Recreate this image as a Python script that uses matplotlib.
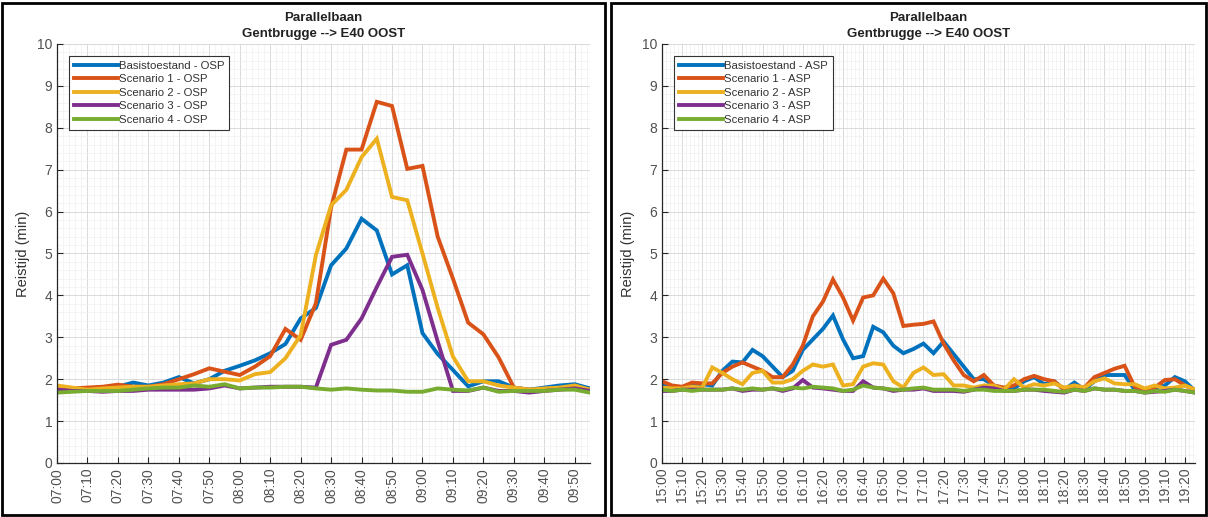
import matplotlib
matplotlib.use("Agg")
import matplotlib.pyplot as plt
from matplotlib.patches import Rectangle
from matplotlib.ticker import MultipleLocator
import numpy as np

plt.rcParams["font.family"] = ["Liberation Sans", "DejaVu Sans"]

# Reistijden (min), elke 5 minuten
# Ochtendspits (OSP) 07:00 - 09:55
osp_basis = [1.75, 1.75, 1.78, 1.80, 1.82, 1.92, 1.85, 1.92, 2.05, 1.90, 2.00, 2.20,
             2.32, 2.45, 2.62, 2.84, 3.45, 3.70, 4.72, 5.12, 5.83, 5.55, 4.50, 4.72,
             3.10, 2.60, 2.22, 1.83, 1.95, 1.95, 1.80, 1.75, 1.80, 1.85, 1.88, 1.78]
osp_sc1 = [1.75, 1.78, 1.80, 1.82, 1.87, 1.82, 1.82, 1.88, 2.00, 2.12, 2.26, 2.18,
           2.10, 2.30, 2.55, 3.20, 2.94, 3.81, 6.10, 7.48, 7.48, 8.62, 8.52, 7.02,
           7.09, 5.40, 4.40, 3.35, 3.07, 2.52, 1.80, 1.75, 1.75, 1.78, 1.80, 1.75]
osp_sc2 = [1.85, 1.80, 1.75, 1.78, 1.80, 1.82, 1.82, 1.85, 1.88, 1.90, 2.00, 2.00,
           1.97, 2.12, 2.17, 2.50, 3.05, 4.96, 6.15, 6.52, 7.30, 7.74, 6.35, 6.27,
           5.00, 3.70, 2.54, 1.95, 1.95, 1.85, 1.80, 1.75, 1.78, 1.80, 1.85, 1.75]
osp_sc3 = [1.75, 1.72, 1.72, 1.70, 1.72, 1.72, 1.75, 1.75, 1.75, 1.75, 1.78, 1.85,
           1.78, 1.80, 1.82, 1.82, 1.82, 1.80, 2.82, 2.94, 3.45, 4.20, 4.92, 4.97,
           4.13, 2.90, 1.72, 1.72, 1.80, 1.72, 1.72, 1.68, 1.72, 1.75, 1.78, 1.72]
osp_sc4 = [1.68, 1.70, 1.72, 1.72, 1.72, 1.75, 1.78, 1.80, 1.80, 1.85, 1.82, 1.88,
           1.78, 1.80, 1.80, 1.82, 1.82, 1.78, 1.75, 1.78, 1.75, 1.73, 1.73, 1.70,
           1.70, 1.78, 1.75, 1.73, 1.80, 1.70, 1.72, 1.72, 1.72, 1.75, 1.75, 1.68]

# Avondspits (ASP) 15:00 - 19:25
asp_basis = [1.85, 1.80, 1.78, 1.85, 1.88, 1.85, 2.20, 2.42, 2.40, 2.70, 2.55, 2.30,
             2.05, 2.20, 2.70, 2.95, 3.20, 3.52, 2.95, 2.50, 2.55, 3.25, 3.12, 2.80,
             2.62, 2.72, 2.85, 2.62, 2.90, 2.60, 2.30, 2.00, 2.00, 1.85, 1.78, 1.78,
             1.95, 2.05, 1.88, 1.95, 1.75, 1.92, 1.75, 1.95, 2.10, 2.10, 2.10, 1.75,
             1.72, 1.78, 1.85, 2.05, 1.95, 1.72]
asp_sc1 = [1.95, 1.85, 1.82, 1.92, 1.90, 1.90, 2.15, 2.30, 2.40, 2.30, 2.20, 2.05,
           2.05, 2.35, 2.80, 3.50, 3.85, 4.38, 3.95, 3.40, 3.95, 4.00, 4.40, 4.05,
           3.27, 3.30, 3.32, 3.38, 2.85, 2.45, 2.10, 1.95, 2.10, 1.85, 1.80, 1.85,
           2.00, 2.08, 2.00, 1.95, 1.75, 1.85, 1.80, 2.05, 2.15, 2.25, 2.32, 1.82,
           1.72, 1.80, 1.98, 2.00, 1.85, 1.75]
asp_sc2 = [1.80, 1.78, 1.78, 1.82, 1.80, 2.28, 2.15, 2.00, 1.88, 2.15, 2.20, 1.92,
           1.92, 2.00, 2.20, 2.35, 2.30, 2.35, 1.85, 1.88, 2.30, 2.38, 2.35, 1.95,
           1.80, 2.15, 2.28, 2.10, 2.12, 1.85, 1.85, 1.80, 1.85, 1.85, 1.75, 2.00,
           1.80, 1.88, 1.85, 1.90, 1.80, 1.85, 1.80, 1.95, 2.02, 1.90, 1.88, 1.88,
           1.78, 1.85, 1.78, 1.80, 1.85, 1.75]
asp_sc3 = [1.72, 1.72, 1.75, 1.75, 1.75, 1.75, 1.75, 1.78, 1.72, 1.75, 1.75, 1.78,
           1.72, 1.78, 1.98, 1.80, 1.78, 1.75, 1.72, 1.72, 1.95, 1.80, 1.78, 1.72,
           1.75, 1.75, 1.78, 1.72, 1.72, 1.72, 1.70, 1.75, 1.80, 1.78, 1.72, 1.72,
           1.75, 1.75, 1.72, 1.70, 1.68, 1.75, 1.72, 1.78, 1.75, 1.75, 1.72, 1.72,
           1.68, 1.70, 1.72, 1.75, 1.72, 1.68]
asp_sc4 = [1.75, 1.72, 1.75, 1.72, 1.75, 1.75, 1.75, 1.78, 1.75, 1.78, 1.75, 1.78,
           1.75, 1.80, 1.78, 1.82, 1.80, 1.78, 1.72, 1.75, 1.85, 1.80, 1.78, 1.75,
           1.75, 1.78, 1.80, 1.75, 1.75, 1.75, 1.72, 1.75, 1.75, 1.72, 1.72, 1.72,
           1.75, 1.75, 1.75, 1.72, 1.70, 1.75, 1.72, 1.78, 1.75, 1.75, 1.72, 1.72,
           1.68, 1.72, 1.70, 1.75, 1.72, 1.68]

osp_ticklabels = ["07:00", "07:10", "07:20", "07:30", "07:40", "07:50", "08:00", "08:10", "08:20",
                  "08:30", "08:40", "08:50", "09:00", "09:10", "09:20", "09:30", "09:40", "09:50"]
asp_ticklabels = ["15:00", "15:10", "15:20", "15:30", "15:40", "15:50", "16:00", "16:10", "16:20",
                  "16:30", "16:40", "16:50", "17:00", "17:10", "17:20", "17:30", "17:40", "17:50",
                  "18:00", "18:10", "18:20", "18:30", "18:40", "18:50", "19:00", "19:10", "19:20"]

namen = ["Basistoestand", "Scenario 1", "Scenario 2", "Scenario 3", "Scenario 4"]
kleuren = ["#0072BD", "#D95319", "#EDB120", "#7E2F8E", "#77AC30"]

W, H = 1208, 517
fig = plt.figure(figsize=(W / 100, H / 100), dpi=100)
fig.patch.set_facecolor("white")


def teken(ax, reeksen, ticklabels, suffix):
    x = np.arange(len(reeksen[0])) * 5  # minuten
    for vals, naam, kl in zip(reeksen, namen, kleuren):
        ax.plot(x, vals, color=kl, lw=2.8, label=naam + " - " + suffix,
                solid_joinstyle="miter")
    ax.set_xlim(0, x[-1])
    ax.set_ylim(0, 10)
    ax.set_xticks(np.arange(len(ticklabels)) * 10)
    ax.set_xticklabels(ticklabels, rotation=90)
    ax.set_yticks(range(0, 11))
    ax.xaxis.set_minor_locator(MultipleLocator(2))
    ax.yaxis.set_minor_locator(MultipleLocator(0.2))
    ax.grid(which="major", color="#dadada", lw=0.7)
    ax.grid(which="minor", color="#f0f0f0", lw=0.5)
    ax.set_axisbelow(True)
    ax.tick_params(which="major", direction="in", length=4, width=0.8,
                   colors="#262626", labelcolor="#505050", labelsize=10)
    ax.tick_params(which="minor", length=0)
    for s in ["top", "right"]:
        ax.spines[s].set_visible(False)
    for s in ["left", "bottom"]:
        ax.spines[s].set_color("#262626")
        ax.spines[s].set_linewidth(0.9)
    ax.set_ylabel("Reistijd (min)", fontsize=10.5, color="#333333", labelpad=5)
    ax.set_title("Parallelbaan\nGentbrugge --> E40 OOST", fontsize=9.5,
                 fontweight="bold", color="#222222", pad=5, linespacing=1.45)
    leg = ax.legend(loc="upper left", bbox_to_anchor=(0.022, 0.972), fontsize=8.2,
                    handlelength=3.9, handletextpad=0.05, borderpad=0.45,
                    labelspacing=0.3, fancybox=False, framealpha=1,
                    borderaxespad=0)
    leg.get_frame().set_edgecolor("#333333")
    leg.get_frame().set_linewidth(0.8)
    for t in leg.get_texts():
        t.set_color("#333333")


ax1 = fig.add_axes([57 / W, (H - 463) / H, 533 / W, 419 / H])
teken(ax1, [osp_basis, osp_sc1, osp_sc2, osp_sc3, osp_sc4], osp_ticklabels, "OSP")

ax2 = fig.add_axes([662 / W, (H - 463) / H, 533 / W, 419 / H])
teken(ax2, [asp_basis, asp_sc1, asp_sc2, asp_sc3, asp_sc4], asp_ticklabels, "ASP")

# zwarte kaders rond beide panelen
fig.patches.append(Rectangle((2 / W, 2 / H), 603 / W, 512 / H, transform=fig.transFigure,
                             fill=False, edgecolor="black", lw=2))
fig.patches.append(Rectangle((611 / W, 2 / H), 595 / W, 512 / H, transform=fig.transFigure,
                             fill=False, edgecolor="black", lw=2))

fig.savefig("out.png", dpi=100)
